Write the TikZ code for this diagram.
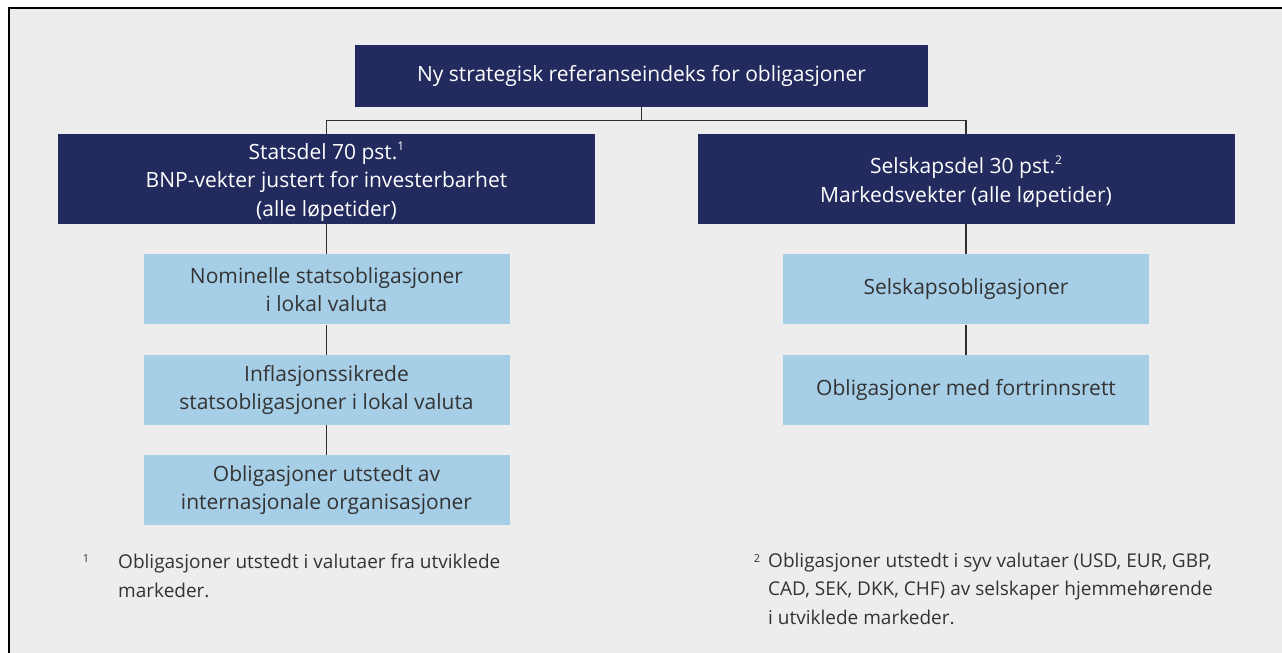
\documentclass[tikz,border=0pt]{standalone}
\usepackage{fontspec}
\setmainfont{Open Sans}
\usetikzlibrary{positioning}
\definecolor{cnavy}{HTML}{222A5E}
\definecolor{csky}{HTML}{A6CEE7}
\definecolor{cpaper}{HTML}{EDEDED}
\definecolor{cink}{HTML}{333333}
\definecolor{cline}{HTML}{2E2E2E}
\newcommand{\fnref}[1]{\smash{\raisebox{0.42em}{\fontsize{12}{12}\selectfont #1}}}
\newcommand{\partstrut}{\rule{0pt}{23pt}}
\tikzset{
  nbase/.style={align=center, inner sep=4pt, font=\fontsize{21}{28.5}\selectfont},
  nhead/.style={nbase, fill=cnavy, text=white, minimum width=573pt, minimum height=62pt},
  npart/.style={nbase, inner ysep=1pt, fill=cnavy, text=white, minimum width=537pt, minimum height=90pt},
  nsub/.style={nbase, fill=csky, text=cink, minimum width=366pt, minimum height=70pt},
  nnote/.style={font=\fontsize{19}{28.5}\selectfont, text=cink, align=left, inner sep=0pt, anchor=base west},
  nmark/.style={font=\fontsize{11}{12}\selectfont, text=cink, inner sep=0pt, anchor=base},
  link/.style={draw=cline, line width=1.4pt},
}

\begin{document}
\begin{tikzpicture}[x=1pt, y=-1pt]
  % frame and paper
  \useasboundingbox (0,0) rectangle (1282,653);
  \fill[white] (0,0) rectangle (1282,653);
  \fill[cpaper] (9,8) rectangle (1282,653);
  \draw[line width=2.4pt] (9,653) -- (9,8) -- (1282,8);

  % tiers
  \node[nhead] (head) at (641.5,76) {Ny strategisk referanseindeks for obligasjoner};
  \node[npart] (state) at (326.5,179)
    {\partstrut Statsdel 70 pst.\fnref{1}\\BNP-vekter justert for investerbarhet\\(alle løpetider)};
  \node[npart] (corp) at (966,179)
    {\partstrut Selskapsdel 30 pst.\fnref{2}\\Markedsvekter (alle løpetider)};

  \node[nsub, below=30pt of state] (s1) {Nominelle statsobligasjoner\\i lokal valuta};
  \node[nsub, below=30pt of s1] (s2) {Inflasjonssikrede\\statsobligasjoner i lokal valuta};
  \node[nsub, below=30pt of s2] (s3) {Obligasjoner utstedt av\\internasjonale organisasjoner};
  \node[nsub, below=30pt of corp] (c1) {Selskapsobligasjoner};
  \node[nsub, below=30pt of c1] (c2) {Obligasjoner med fortrinnsrett};

  % connectors
  \coordinate (bus) at (641.5,120.5);
  \draw[link] (head) -- (head.south |- bus);
  \draw[link] (state.north) |- (bus) -| (corp.north);
  \draw[link] (state) -- (s1); \draw[link] (s1) -- (s2); \draw[link] (s2) -- (s3);
  \draw[link] (corp) -- (c1); \draw[link] (c1) -- (c2);

  % footnotes (base = last line)
  \node[nnote] (fn1) at (118,597) {Obligasjoner utstedt i valutaer fra utviklede\\markeder.};
  \node[nmark] (fn1m) at (86,562) {1};
  \node[nnote] (fn2) at (768,624)
    {Obligasjoner utstedt i syv valutaer (USD, EUR, GBP,\\CAD, SEK, DKK, CHF) av selskaper hjemmehørende\\i utviklede markeder.};
  \node[nmark] (fn2m) at (757,562) {2};
\end{tikzpicture}
\end{document}
